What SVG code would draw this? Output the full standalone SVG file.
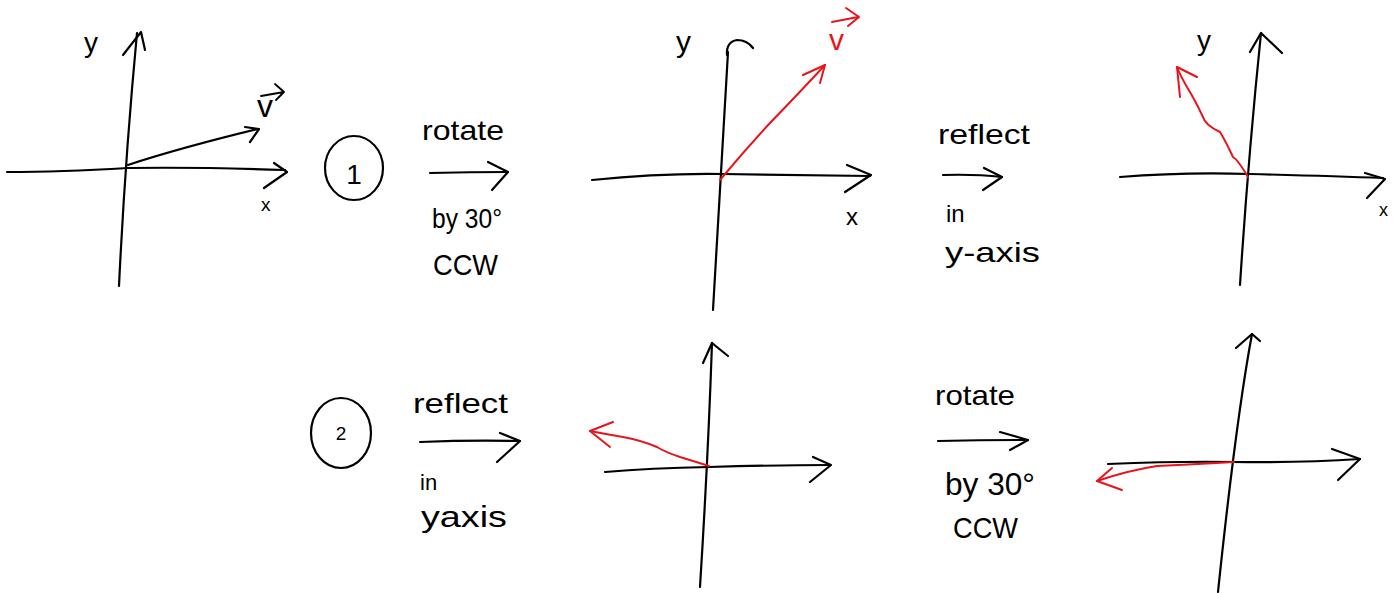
<svg xmlns="http://www.w3.org/2000/svg" width="1395" height="594" viewBox="0 0 1395 594">
<style>
.ax{fill:none;stroke:#000;stroke-width:2.2;stroke-linecap:round;stroke-linejoin:round}
.rd{fill:none;stroke:#e8141c;stroke-width:2;stroke-linecap:round;stroke-linejoin:round}
.t{font-family:"Liberation Sans",Arial,sans-serif;fill:#000;font-size:28px}
.tr{font-family:"Liberation Sans",Arial,sans-serif;fill:#e8141c;font-size:30px}
</style>
<rect width="1395" height="594" fill="#fff"/>

<g id="panel1">
  <path class="ax" d="M7 172 Q60 172 128 168 Q200 167 285 170"/>
  <path class="ax" d="M274 163 L287 172 L264 188"/>
  <path class="ax" d="M119 286 Q125 160 137 33"/>
  <path class="ax" d="M123 55 L141 32 L145 50"/>
  <path class="ax" d="M128 165 Q180 148 258 129"/>
  <path class="ax" d="M245 127 L259 129 L250 142"/>
  <text class="t" x="84" y="52">y</text>
  <text class="t" x="261" y="211" style="font-size:19px">x</text>
  <text class="t" x="257" y="117" style="font-size:32px">v</text>
  <path class="ax" d="M261 96 L284 92 M275 84 L284 92 L276 100" style="stroke-width:1.8"/>
</g>

<g id="step1">
  <ellipse class="ax" cx="354" cy="168" rx="29" ry="32"/>
  <text class="t" x="354" y="184" text-anchor="middle">1</text>
  <text class="t" x="422" y="140" textLength="82" lengthAdjust="spacingAndGlyphs">rotate</text>
  <text class="t" x="432" y="228" textLength="70" lengthAdjust="spacingAndGlyphs">by 30°</text>
  <text class="t" x="433" y="275" textLength="65" lengthAdjust="spacingAndGlyphs" style="font-size:30px">CCW</text>
</g>

<g id="panel2">
  <path class="ax" d="M592 180 Q660 173 723 174 Q800 175 870 176"/>
  <path class="ax" d="M847 165 L871 175 L845 192"/>
  <path class="ax" d="M713 310 Q720 180 728 52"/>
  <path class="ax" d="M727 55 Q726 42 737 40 Q747 40 753 48"/>
  <path class="rd" d="M720 180 Q745 150 770 123 Q800 92 825 65"/>
  <path class="rd" d="M803 75 L825 65 L820 83"/>
  <text class="t" x="676" y="52" style="font-size:30px">y</text>
  <text class="t" x="846" y="225" style="font-size:24px">x</text>
  <text class="tr" x="829" y="50">v</text>
  <path class="rd" d="M832 22 L858 17 M846 8 L859 17 L848 26"/>
</g>

<g id="step1b">
  <text class="t" x="938" y="144" textLength="92" lengthAdjust="spacingAndGlyphs">reflect</text>
  <text class="t" x="946" y="222" style="font-size:24px">in</text>
  <text class="t" x="945" y="262" textLength="95" lengthAdjust="spacingAndGlyphs">y-axis</text>
</g>

<g id="panel3">
  <path class="ax" d="M1120 177 Q1183 172 1250 174 Q1333 176 1383 178"/>
  <path class="ax" d="M1365 173 L1385 179 L1367 198"/>
  <path class="ax" d="M1240 285 Q1248 160 1261 33"/>
  <path class="ax" d="M1250 52 L1261 33 L1282 53"/>
  <path class="rd" d="M1248 177 Q1238 160 1233 157 Q1225 140 1220 132 Q1205 125 1203 117 Q1195 100 1187 87 Q1180 75 1177 67"/>
  <path class="rd" d="M1197 77 L1177 67 L1180 97"/>
  <text class="t" x="1197" y="50">y</text>
  <text class="t" x="1379" y="216" style="font-size:18px">x</text>
</g>

<g id="step2">
  <ellipse class="ax" cx="341" cy="433" rx="30" ry="35"/>
  <text class="t" x="341" y="440" text-anchor="middle" style="font-size:19px">2</text>
  <text class="t" x="413" y="413" textLength="95" lengthAdjust="spacingAndGlyphs">reflect</text>
  <text class="t" x="420" y="490" style="font-size:22px">in</text>
  <text class="t" x="421" y="527" textLength="86" lengthAdjust="spacingAndGlyphs" style="font-size:30px">yaxis</text>
</g>

<g id="panel4">
  <path class="ax" d="M605 472 Q650 468 709 467 Q780 465 830 465"/>
  <path class="ax" d="M813 457 L831 465 L810 482"/>
  <path class="ax" d="M700 587 Q708 460 712 343"/>
  <path class="ax" d="M703 363 L712 343 L728 356"/>
  <path class="rd" d="M709 466 Q690 460 680 457 Q665 452 657 447 Q640 440 623 437 Q605 434 590 431"/>
  <path class="rd" d="M613 422 L590 431 L610 447"/>
</g>

<g id="step2b">
  <text class="t" x="935" y="405" textLength="80" lengthAdjust="spacingAndGlyphs">rotate</text>
  <text class="t" x="945" y="495" textLength="90" lengthAdjust="spacingAndGlyphs" style="font-size:32px">by 30°</text>
  <text class="t" x="953" y="538" textLength="65" lengthAdjust="spacingAndGlyphs" style="font-size:30px">CCW</text>
</g>

<g id="panel5">
  <path class="ax" d="M1108 464 Q1180 461 1234 462 Q1300 463 1360 459"/>
  <path class="ax" d="M1332 449 L1360 459 L1338 480"/>
  <path class="ax" d="M1218 592 Q1236 420 1252 334"/>
  <path class="ax" d="M1236 348 L1252 334 L1260 341"/>
  <path class="rd" d="M1234 462 Q1200 464 1157 466 Q1130 470 1097 481"/>
  <path class="rd" d="M1112 468 L1097 481 L1122 490"/>
</g>

<g id="connectors">
  <path class="ax" d="M430 173 Q470 172 508 172"/>
  <path class="ax" d="M488 162 L508 172 L492 190"/>
  <path class="ax" d="M943 175 Q975 174 1002 177"/>
  <path class="ax" d="M984 168 L1002 177 L983 190"/>
  <path class="ax" d="M420 442 Q470 440 520 441"/>
  <path class="ax" d="M500 433 L520 441 L497 462"/>
  <path class="ax" d="M938 441 Q985 440 1028 440"/>
  <path class="ax" d="M1000 432 L1028 440 L1010 450"/>
</g>
</svg>
